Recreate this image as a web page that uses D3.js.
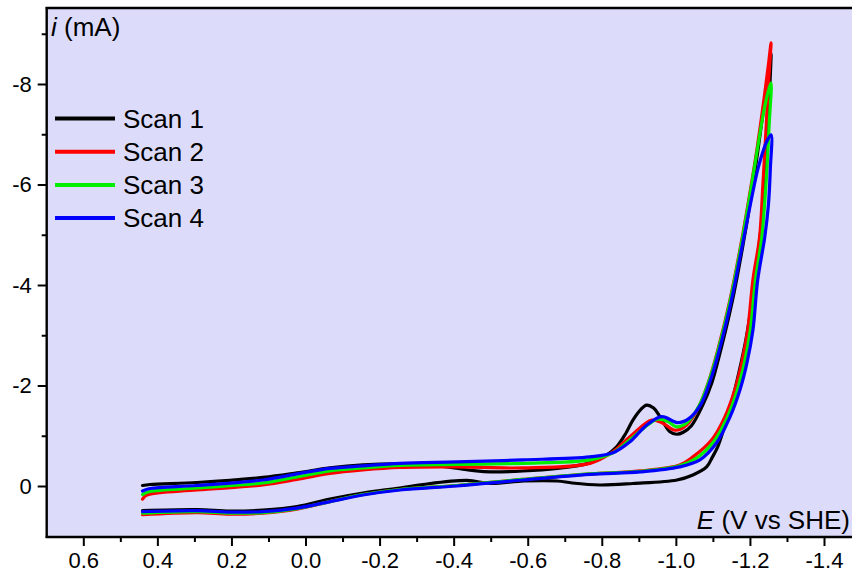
<!DOCTYPE html>
<html><head><meta charset="utf-8">
<script src="https://cdn.jsdelivr.net/npm/d3@7"></script>
<style>
html,body{margin:0;padding:0;background:#fff;}
svg{display:block;font-family:Arial,"Liberation Sans",sans-serif;}
</style></head>
<body>
<svg id="chart" width="852" height="578"></svg>
<script>
// ---- data (E in V vs SHE, i in mA) ----
const xTicks = [0.6, 0.4, 0.2, 0.0, -0.2, -0.4, -0.6, -0.8, -1.0, -1.2, -1.4];
const xTickLabels = ["0.6","0.4","0.2","0.0","-0.2","-0.4","-0.6","-0.8","-1.0","-1.2","-1.4"];
const yTicks = [0, -2, -4, -6, -8];
const yTickLabels = ["0","-2","-4","-6","-8"];
const seriesNames = ["Scan 1", "Scan 2", "Scan 3", "Scan 4"];
const seriesColors = ["#000000", "#ff0000", "#00ee00", "#0000ff"];

// Each scan: forward branch (0.44 V -> vertex) then reverse branch (vertex -> 0.44 V)
const scan1Forward = [[0.44,-0.01],[0.42,-0.03],[0.293,-0.07],[0.115,-0.17],[0.023,-0.26],[-0.066,-0.36],[-0.155,-0.42],[-0.255,-0.44],[-0.36,-0.40],[-0.45,-0.31],[-0.50,-0.28],[-0.68,-0.35],[-0.768,-0.46],[-0.81,-0.60],[-0.84,-0.78],[-0.865,-1.05],[-0.884,-1.31],[-0.905,-1.52],[-0.921,-1.61],[-0.94,-1.55],[-0.957,-1.38],[-0.984,-1.08],[-1.002,-1.03],[-1.02,-1.07],[-1.042,-1.20],[-1.072,-1.60],[-1.097,-2.05],[-1.121,-2.70],[-1.153,-3.70],[-1.179,-4.70],[-1.202,-5.70],[-1.222,-6.70],[-1.240,-7.70],[-1.253,-8.35],[-1.257,-8.60]];
const scan1Reverse = [[-1.257,-8.60],[-1.254,-8.0],[-1.248,-7.0],[-1.238,-5.8],[-1.225,-4.8],[-1.21,-3.9],[-1.19,-2.95],[-1.17,-2.25],[-1.15,-1.65],[-1.13,-1.15],[-1.113,-0.78],[-1.099,-0.58],[-1.083,-0.38],[-1.046,-0.22],[-1.003,-0.12],[-0.884,-0.05],[-0.795,-0.02],[-0.72,-0.06],[-0.68,-0.10],[-0.59,-0.10],[-0.50,-0.05],[-0.436,-0.11],[-0.317,-0.03],[-0.255,0.04],[-0.155,0.14],[-0.066,0.26],[0.023,0.41],[0.115,0.48],[0.204,0.50],[0.293,0.47],[0.44,0.49]];

const scan2Forward = [[0.44,0.26],[0.428,0.18],[0.293,0.08],[0.115,-0.02],[0.023,-0.13],[-0.066,-0.25],[-0.155,-0.32],[-0.255,-0.37],[-0.409,-0.38],[-0.587,-0.36],[-0.768,-0.45],[-0.83,-0.68],[-0.876,-0.98],[-0.935,-1.31],[-0.965,-1.25],[-0.998,-1.11],[-1.03,-1.22],[-1.062,-1.58],[-1.088,-2.07],[-1.113,-2.70],[-1.146,-3.70],[-1.173,-4.70],[-1.197,-5.70],[-1.219,-6.70],[-1.238,-7.70],[-1.251,-8.45],[-1.257,-8.82]];
const scan2Reverse = [[-1.257,-8.82],[-1.25,-8.0],[-1.242,-6.9],[-1.235,-6.0],[-1.226,-4.95],[-1.208,-4.10],[-1.194,-3.10],[-1.178,-2.45],[-1.159,-1.91],[-1.132,-1.37],[-1.097,-0.92],[-1.046,-0.58],[-1.010,-0.42],[-0.903,-0.30],[-0.768,-0.24],[-0.587,-0.13],[-0.409,-0.01],[-0.255,0.07],[-0.155,0.17],[-0.066,0.31],[0.023,0.46],[0.115,0.54],[0.204,0.56],[0.293,0.53],[0.44,0.57]];

const scan3Forward = [[0.44,0.17],[0.42,0.11],[0.293,0.04],[0.115,-0.06],[0.023,-0.18],[-0.066,-0.30],[-0.155,-0.36],[-0.255,-0.41],[-0.409,-0.43],[-0.587,-0.45],[-0.768,-0.52],[-0.83,-0.66],[-0.876,-0.92],[-0.925,-1.22],[-0.950,-1.33],[-0.98,-1.28],[-1.0,-1.18],[-1.03,-1.26],[-1.063,-1.60],[-1.089,-2.08],[-1.114,-2.70],[-1.147,-3.70],[-1.174,-4.70],[-1.198,-5.70],[-1.220,-6.70],[-1.240,-7.55],[-1.252,-7.92],[-1.257,-8.02]];
const scan3Reverse = [[-1.257,-8.02],[-1.252,-7.2],[-1.245,-6.2],[-1.232,-4.95],[-1.215,-4.10],[-1.201,-3.10],[-1.185,-2.45],[-1.166,-1.91],[-1.139,-1.37],[-1.103,-0.89],[-1.055,-0.55],[-1.010,-0.40],[-0.903,-0.29],[-0.768,-0.24],[-0.587,-0.13],[-0.409,-0.01],[-0.255,0.07],[-0.155,0.17],[-0.066,0.31],[0.023,0.45],[0.115,0.53],[0.204,0.54],[0.293,0.51],[0.44,0.54]];

const scan4Forward = [[0.44,0.10],[0.42,0.05],[0.293,-0.01],[0.115,-0.12],[0.023,-0.24],[-0.066,-0.35],[-0.155,-0.40],[-0.255,-0.45],[-0.409,-0.48],[-0.587,-0.52],[-0.768,-0.58],[-0.83,-0.66],[-0.876,-0.88],[-0.921,-1.21],[-0.962,-1.38],[-1.005,-1.26],[-1.035,-1.34],[-1.067,-1.62],[-1.093,-2.10],[-1.117,-2.70],[-1.150,-3.70],[-1.177,-4.70],[-1.201,-5.60],[-1.223,-6.35],[-1.245,-6.85],[-1.257,-6.99]];
const scan4Reverse = [[-1.257,-6.99],[-1.255,-6.3],[-1.25,-5.6],[-1.24,-4.95],[-1.221,-4.10],[-1.208,-3.10],[-1.192,-2.45],[-1.173,-1.91],[-1.146,-1.37],[-1.110,-0.86],[-1.065,-0.52],[-1.010,-0.38],[-0.903,-0.28],[-0.768,-0.23],[-0.587,-0.12],[-0.409,0.0],[-0.255,0.08],[-0.155,0.18],[-0.066,0.31],[0.023,0.44],[0.115,0.51],[0.204,0.52],[0.293,0.49],[0.44,0.51]];

const scans = [
  scan1Forward.concat(scan1Reverse.slice(1)),
  scan2Forward.concat(scan2Reverse.slice(1)),
  scan3Forward.concat(scan3Reverse.slice(1)),
  scan4Forward.concat(scan4Reverse.slice(1))
];

// ---- layout ----
const svg = d3.select("#chart");
const plotL = 46.7, plotT = 8, plotB = 537, plotR = 870;
const x = d3.scaleLinear().domain([0.6, -1.4]).range([83.3, 824]);
const y = d3.scaleLinear().domain([0, -8]).range([486, 84]);

svg.append("rect").attr("x", plotL).attr("y", plotT)
  .attr("width", plotR - plotL).attr("height", plotB - plotT)
  .attr("fill", "#dcdcfa");

// curves
const line = d3.line().x(d => x(d[0])).y(d => y(d[1])).curve(d3.curveCatmullRom.alpha(0.5));
scans.forEach((s, k) => {
  svg.append("path").attr("d", line(s)).attr("fill", "none")
    .attr("stroke", seriesColors[k]).attr("stroke-width", 3.2)
    .attr("stroke-linejoin", "round").attr("stroke-linecap", "round");
});

// axes
const xMinor = d3.range(0.7, -1.51, -0.1).map(v => +v.toFixed(1)).filter(v => !xTicks.includes(v));
const xAxis = d3.axisBottom(x).tickValues(xTicks).tickFormat((d, i) => xTickLabels[i]).tickSize(9).tickPadding(6);
const gx = svg.append("g").attr("transform", `translate(0,${plotB})`).call(xAxis);
gx.select(".domain").remove();
gx.selectAll(".tick line").attr("stroke", "#000").attr("stroke-width", 2);
gx.selectAll(".tick text").attr("font-size", 22).attr("fill", "#000").attr("font-family", "Arial, 'Liberation Sans', sans-serif");
const gxm = svg.append("g").attr("transform", `translate(0,${plotB})`)
  .call(d3.axisBottom(x).tickValues(xMinor.filter(v => x(v) > plotL + 1 && x(v) < 852)).tickSize(5).tickFormat(""));
gxm.select(".domain").remove();
gxm.selectAll(".tick line").attr("stroke", "#000").attr("stroke-width", 2);

const yMinor = [1, -1, -3, -5, -7, -9];
const yAxis = d3.axisLeft(y).tickValues(yTicks).tickFormat((d, i) => yTickLabels[i]).tickSize(9).tickPadding(6);
const gy = svg.append("g").attr("transform", `translate(${plotL},0)`).call(yAxis);
gy.select(".domain").remove();
gy.selectAll(".tick line").attr("stroke", "#000").attr("stroke-width", 2);
gy.selectAll(".tick text").attr("font-size", 22).attr("fill", "#000").attr("font-family", "Arial, 'Liberation Sans', sans-serif");
const gym = svg.append("g").attr("transform", `translate(${plotL},0)`)
  .call(d3.axisLeft(y).tickValues(yMinor.filter(v => y(v) > plotT + 1 && y(v) < plotB - 1)).tickSize(5).tickFormat(""));
gym.select(".domain").remove();
gym.selectAll(".tick line").attr("stroke", "#000").attr("stroke-width", 2);

// frame lines
svg.append("line").attr("x1", plotL).attr("x2", plotL).attr("y1", plotT - 1).attr("y2", plotB + 1).attr("stroke", "#000").attr("stroke-width", 2.4);
svg.append("line").attr("x1", plotL - 1).attr("x2", 852).attr("y1", plotB).attr("y2", plotB).attr("stroke", "#000").attr("stroke-width", 2.4);
svg.append("line").attr("x1", plotL - 1).attr("x2", 852).attr("y1", plotT).attr("y2", plotT).attr("stroke", "#000").attr("stroke-width", 2.4);

// axis titles
const yt = svg.append("text").attr("x", 51).attr("y", 36).attr("font-size", 26).attr("fill", "#000");
yt.append("tspan").attr("font-style", "italic").text("i");
yt.append("tspan").text(" (mA)");
const xt = svg.append("text").attr("x", 850).attr("y", 529).attr("text-anchor", "end").attr("font-size", 26).attr("fill", "#000");
xt.append("tspan").attr("font-style", "italic").text("E");
xt.append("tspan").text(" (V vs SHE)");

// legend
seriesNames.forEach((name, k) => {
  const ly = 118.5 + k * 33.2;
  svg.append("line").attr("x1", 55).attr("x2", 115).attr("y1", ly).attr("y2", ly)
    .attr("stroke", seriesColors[k]).attr("stroke-width", 4);
  svg.append("text").attr("x", 123).attr("y", ly + 9.3).attr("font-size", 26).attr("fill", "#000").text(name);
});
</script>
</body></html>
